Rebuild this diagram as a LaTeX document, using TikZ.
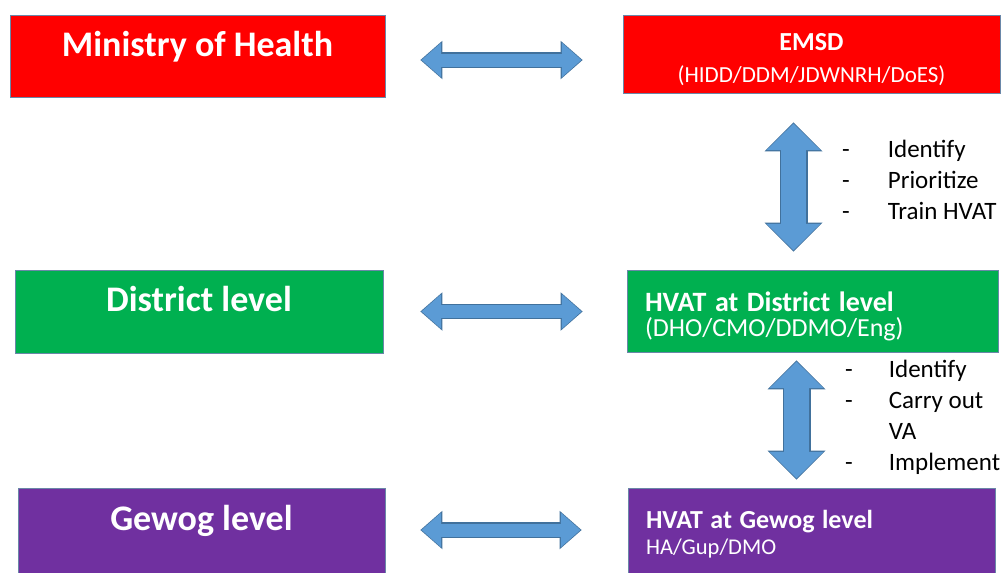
\documentclass[tikz,border=0pt]{standalone}
\usepackage{fontspec}
\setmainfont{Carlito}
\usetikzlibrary{arrows.meta,positioning,calc}
\definecolor{BoxRed}{HTML}{FF0000}
\definecolor{BoxGreen}{HTML}{00B050}
\definecolor{BoxPurple}{HTML}{7030A0}
\definecolor{BoxEdge}{HTML}{6A87A8}
\definecolor{ArrowBlue}{HTML}{5B9BD5}
\definecolor{ArrowEdge}{HTML}{41719C}
\tikzset{box/.style={draw=BoxEdge,line width=0.8pt,text=white,inner xsep=18pt,inner ysep=0pt},
lvl/.style={box,align=center,text height=25pt,text depth=25pt,font=\bfseries\fontsize{36}{40}\selectfont},
team/.style={box,align=left},
tasks/.style={inner sep=0pt,anchor=north west,font=\fontsize{25}{31}\selectfont},
hedge/.style={<->,>={Triangle[length=22pt,width=38.5pt,line width=0pt]},ArrowEdge,line width=15.5pt},
hfill/.style={<->,>={Triangle[length=19.5pt,width=34.5pt,line width=0pt]},ArrowBlue,line width=13pt},
vedge/.style={<->,>={Triangle[length=29pt,width=58pt,line width=0pt]},ArrowEdge,line width=28pt},
vfill/.style={<->,>={Triangle[length=26.6pt,width=54pt,line width=0pt]},ArrowBlue,line width=25.6pt}}
% block arrow in two layers: outline, then fill
\newcommand\twoway[5]{\draw[#1edge,shorten <=#4,shorten >=#5] #2 -- #3;
\draw[#1fill,shorten <=#4+1.2pt,shorten >=#5+1.2pt] #2 -- #3;}

\begin{document}
\begin{tikzpicture}[x=1pt,y=-1pt]
\useasboundingbox (0,0) rectangle (1007,573);
% left column
\node[lvl,fill=BoxRed,minimum width=375pt,minimum height=82pt] (moh) at (197.5,56) {Ministry of Health};
\node[lvl,fill=BoxGreen,minimum width=368pt,minimum height=83pt] (dist) at (199,311.5) {District level};
\node[lvl,fill=BoxPurple,minimum width=367pt,minimum height=92pt,text height=21pt,text depth=29pt] (gewog) at (201.5,534) {Gewog level};
% right column
\node[box,fill=BoxRed,align=center,text width=341pt,minimum height=78pt,font=\fontsize{23}{32}\selectfont] (emsd) at (811.5,54) {{\rule{0pt}{28pt}\bfseries\fontsize{26}{32}\selectfont EMSD}\\(HIDD/DDM/JDWNRH/DoES)};
\node[team,fill=BoxGreen,text width=335pt,minimum height=82pt,font=\fontsize{26}{25}\selectfont] (hvatd) at (812.5,311) {{\rule{0pt}{31pt}\bfseries\fontsize{28}{25}\selectfont HVAT at District level}\\(DHO/CMO/DDMO/Eng)};
\node[team,fill=BoxPurple,text width=331pt,minimum height=92pt,font=\fontsize{22.5}{26}\selectfont] (hvatg) at (811.5,534) {{\bfseries\fontsize{26}{26}\selectfont HVAT at Gewog level}\\HA/Gup/DMO};
% task lists
\node[tasks] (tasksA) at (842,136) {\begin{tabular}{@{}l@{\hspace{38pt}}l@{}}- & Identify\\- & Prioritize\\- & Train HVAT\end{tabular}};
\node[tasks] (tasksB) at (845,356) {\begin{tabular}{@{}l@{\hspace{36pt}}l@{}}- & Identify\\- & Carry out\\ & VA\\- & Implement\end{tabular}};
% arrows
\twoway{h}{([yshift=-4pt]moh.east)}{([yshift=-4pt]moh.east -| emsd.west)}{35pt}{40pt}
\twoway{h}{(dist.east)}{(dist.east -| hvatd.west)}{37pt}{44pt}
\twoway{h}{([yshift=4pt]gewog.east)}{([yshift=4pt]gewog.east -| hvatg.west)}{35pt}{46pt}
\twoway{v}{([xshift=-18pt]emsd.south)}{([xshift=-18pt]emsd.south |- hvatd.north)}{29pt}{18pt}
\twoway{v}{([xshift=-16pt]hvatd.south)}{([xshift=-16pt]hvatd.south |- hvatg.north)}{8pt}{8pt}
\end{tikzpicture}
\end{document}
